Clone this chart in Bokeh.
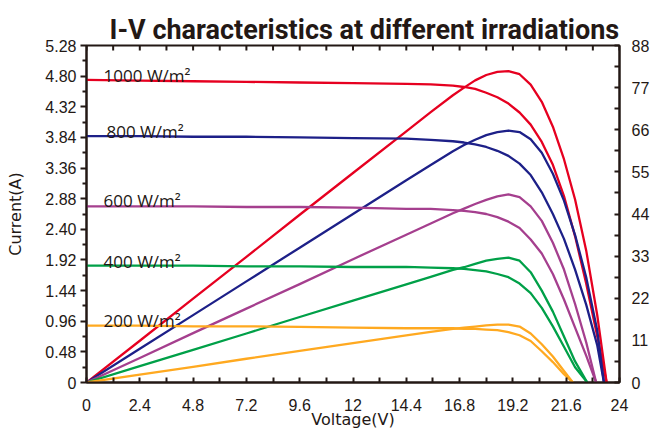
import math
from bokeh.plotting import figure
from bokeh.models import Range1d, LinearAxis, FixedTicker, CustomJSTickFormatter
from bokeh.embed import file_html
from bokeh.resources import INLINE
from bokeh.core.properties import value

# ---------------- data ----------------
x_ticks = [0, 2.4, 4.8, 7.2, 9.6, 12, 14.4, 16.8, 19.2, 21.6, 24]
x_minor = [1.2, 3.6, 6.0, 8.4, 10.8, 13.2, 15.6, 18.0, 20.4, 22.8]
i_ticks = [0, 0.48, 0.96, 1.44, 1.92, 2.40, 2.88, 3.36, 3.84, 4.32, 4.80, 5.28]
i_minor = [0.24, 0.72, 1.20, 1.68, 2.16, 2.64, 3.12, 3.60, 4.08, 4.56, 5.04]
p_ticks = [0, 11, 22, 33, 44, 55, 66, 77, 88]
p_minor = [5.5, 16.5, 27.5, 38.5, 49.5, 60.5, 71.5, 82.5]

irradiance = ["1000 W/m²", "800 W/m²", "600 W/m²", "400 W/m²", "200 W/m²"]
label_v = [0.77, 0.9, 0.77, 0.77, 0.77]
label_i = [4.81, 3.93, 2.85, 1.89, 0.97]

red_v = [0, 2.4, 4.8, 7.2, 9.6, 12, 14.4, 15.5, 16.5, 17, 17.5, 18, 18.5, 19, 19.5, 20, 20.5, 21, 21.5, 22, 22.5, 23, 23.42]
red_i = [4.74, 4.73, 4.72, 4.71, 4.70, 4.69, 4.68, 4.67, 4.65, 4.63, 4.60, 4.54, 4.47, 4.37, 4.23, 4.04, 3.77, 3.41, 2.92, 2.29, 1.55, 0.72, 0]
red_p = [0, 10.9, 21.9, 32.8, 43.8, 54.7, 65.6, 70.6, 75.0, 77.0, 78.9, 80.3, 81.1, 81.3, 80.5, 77.8, 73.3, 66.8, 58.3, 47.8, 34.5, 17.5, 0]

blue_v = [0, 2.4, 4.8, 7.2, 9.6, 12, 14.4, 15.5, 16.5, 17, 17.5, 18, 18.5, 19, 19.5, 20, 20.5, 21, 21.5, 22, 22.5, 23, 23.3]
blue_i = [3.86, 3.86, 3.85, 3.85, 3.84, 3.83, 3.82, 3.80, 3.78, 3.76, 3.73, 3.69, 3.63, 3.55, 3.43, 3.25, 2.98, 2.64, 2.25, 1.77, 1.22, 0.58, 0]
blue_p = [0, 8.8, 17.6, 26.4, 35.2, 44.0, 52.8, 56.8, 60.4, 62.0, 63.4, 64.6, 65.4, 65.8, 65.4, 63.5, 60.0, 54.5, 47.5, 38.5, 27.5, 13.5, 0]

purple_v = [0, 2.4, 4.8, 7.2, 9.6, 12, 14.4, 15.5, 16.5, 17, 17.5, 18, 18.5, 19, 19.5, 20, 20.5, 21, 21.5, 22, 22.5, 22.95]
purple_i = [2.76, 2.76, 2.76, 2.75, 2.75, 2.74, 2.72, 2.72, 2.70, 2.69, 2.67, 2.64, 2.59, 2.52, 2.42, 2.24, 2.02, 1.70, 1.30, 0.86, 0.42, 0]
purple_p = [0, 6.4, 12.9, 19.3, 25.7, 32.2, 38.6, 41.5, 44.2, 45.4, 46.6, 47.7, 48.6, 49.1, 48.4, 46.0, 42.2, 36.5, 29.5, 20.5, 10.5, 0]

green_v = [0, 2.4, 4.8, 7.2, 9.6, 12, 14.4, 15.5, 16.5, 17, 17.5, 18, 18.5, 19, 19.5, 20, 20.5, 21, 21.5, 22, 22.55]
green_i = [1.83, 1.83, 1.83, 1.82, 1.82, 1.81, 1.81, 1.80, 1.79, 1.78, 1.76, 1.74, 1.70, 1.65, 1.55, 1.40, 1.17, 0.88, 0.56, 0.24, 0]
green_p = [0, 4.3, 8.5, 12.8, 17.1, 21.4, 25.6, 27.6, 29.4, 30.1, 31.0, 31.8, 32.3, 32.6, 31.8, 28.8, 24.0, 18.5, 12.0, 5.5, 0]

orange_v = [0, 2.4, 4.8, 7.2, 9.6, 12, 14.4, 15.5, 16.5, 17, 17.5, 18, 18.5, 19, 19.5, 20, 20.5, 21, 21.5, 21.9]
orange_i = [0.89, 0.89, 0.88, 0.88, 0.87, 0.86, 0.85, 0.85, 0.85, 0.84, 0.84, 0.83, 0.82, 0.79, 0.74, 0.65, 0.49, 0.32, 0.13, 0]
orange_p = [0, 2.05, 4.1, 6.2, 8.25, 10.3, 12.3, 13.2, 14.0, 14.3, 14.6, 14.9, 15.1, 15.1, 14.6, 12.8, 10.0, 6.8, 3.0, 0]

colors = ["#E60020", "#1D2088", "#A53F8E", "#00A048", "#FFA920"]
series = [(red_v, red_i, red_p), (blue_v, blue_i, blue_p), (purple_v, purple_i, purple_p),
          (green_v, green_i, green_p), (orange_v, orange_i, orange_p)]

# ---------------- figure ----------------
INK = "#231815"
p = figure(width=654, height=432, output_backend="svg", toolbar_location=None,
           x_range=Range1d(0, 24), y_range=Range1d(0, 5.28),
           min_border_left=86, min_border_right=35, min_border_top=45, min_border_bottom=50,
           title="I-V characteristics at different irradiations")
p.extra_y_ranges = {"power": Range1d(0, 88)}
p.xgrid.visible = False
p.ygrid.visible = False
p.outline_line_color = INK
p.outline_line_width = 2
p.background_fill_color = "white"
p.border_fill_color = "white"

p.title.align = "left"
p.title.offset = 23
p.title.standoff = 0
p.title.text_font = "Roboto"
p.title.text_font_style = "bold"
p.title.text_font_size = "27px"
p.title.text_color = INK

tick_font = "Liberation Sans"

# bottom axis
xa = p.xaxis[0]
xa.ticker = FixedTicker(ticks=x_ticks, minor_ticks=x_minor)
xa.formatter = CustomJSTickFormatter(code="return (Math.round(tick*10)/10).toString();")
xa.major_tick_in = 5
xa.major_tick_out = 0
xa.minor_tick_in = 5
xa.minor_tick_out = 0
xa.major_label_standoff = 16
xa.major_label_text_font = tick_font
xa.major_label_text_font_size = "16px"
xa.axis_label = "Voltage(V)"
xa.axis_label_text_font = "DejaVu Sans"
xa.axis_label_text_font_style = "normal"
xa.axis_label_text_font_size = "16px"
xa.axis_label_standoff = -4

# left axis
ya = p.yaxis[0]
ya.ticker = FixedTicker(ticks=i_ticks, minor_ticks=i_minor)
ya.formatter = CustomJSTickFormatter(code="return tick == 0 ? '0' : tick.toFixed(2);")
ya.major_tick_in = 0
ya.major_tick_out = 6
ya.minor_tick_in = 0
ya.minor_tick_out = 4
ya.major_label_standoff = 4
ya.major_label_text_font = tick_font
ya.major_label_text_font_size = "16px"
ya.axis_label = "Current(A)"
ya.axis_label_text_font = "DejaVu Sans"
ya.axis_label_text_font_style = "normal"
ya.axis_label_text_font_size = "16px"
ya.axis_label_standoff = 17

# right axis
ra = LinearAxis(y_range_name="power")
ra.ticker = FixedTicker(ticks=p_ticks, minor_ticks=p_minor)
ra.formatter = CustomJSTickFormatter(code="return tick.toFixed(0);")
ra.major_tick_in = 5
ra.major_tick_out = 0
ra.minor_tick_in = 5
ra.minor_tick_out = 0
ra.major_label_standoff = 12
ra.axis_label_standoff = 0
ra.major_label_text_font = tick_font
ra.major_label_text_font_size = "16px"
p.add_layout(ra, "right")

for ax in (xa, ya, ra):
    ax.axis_line_color = INK
    ax.axis_line_width = 2
    ax.major_tick_line_color = INK
    ax.major_tick_line_width = 2
    ax.minor_tick_line_color = INK
    ax.minor_tick_line_width = 2
    ax.major_label_text_color = INK
    ax.axis_label_text_color = INK

# top edge ticks (inward, half of each dash is clipped by the frame)
top_x = x_ticks + x_minor
top_y = [i_ticks[-1]] * len(top_x)
p.scatter(x=top_x, y=top_y, marker="dash", angle=math.pi / 2,
          size=10, line_color=INK, line_width=2)

# curves
for (v, i, pw), c in zip(series, colors):
    p.line(v, i, line_color=c, line_width=2.3, line_join="round")
    p.line(v, pw, line_color=c, line_width=2.3, line_join="round", y_range_name="power")

# irradiance labels
p.text(x=label_v, y=label_i, text=irradiance, text_font=value("Open Sans"),
       text_font_size="17px", text_baseline="alphabetic", text_align="left", text_color=INK)

open("out.html", "w").write(file_html(p, INLINE))
